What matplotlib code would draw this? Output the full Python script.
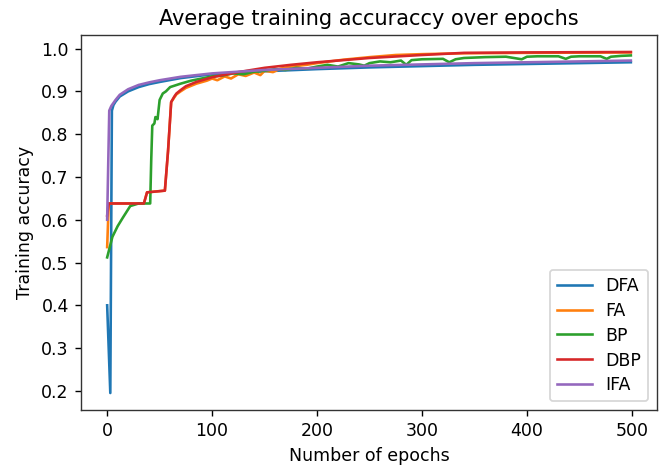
import numpy as np
import matplotlib
matplotlib.use('Agg')
import matplotlib.pyplot as plt

# DFA
dfa_x = [0, 3, 4.5, 6, 8, 12, 20, 30, 40, 50, 70, 100, 150, 200, 250, 300, 350, 400, 450, 499]
dfa_y = [0.40, 0.195, 0.855, 0.868, 0.876, 0.888, 0.900, 0.910, 0.917, 0.922, 0.931, 0.940,
         0.947, 0.952, 0.956, 0.959, 0.962, 0.964, 0.966, 0.968]

# FA
fa_x = [0, 1.5, 35, 38, 55, 58, 61, 64, 66, 70, 75, 85, 95, 100, 105, 112, 118, 125, 132, 140,
        146, 150, 158, 165, 175, 190, 200, 225, 250, 275, 300, 340, 400, 499]
fa_y = [0.536, 0.638, 0.638, 0.664, 0.668, 0.76, 0.875, 0.886, 0.893, 0.900, 0.908, 0.918,
        0.925, 0.930, 0.926, 0.935, 0.930, 0.940, 0.936, 0.944, 0.938, 0.948, 0.945, 0.953,
        0.958, 0.962, 0.966, 0.974, 0.980, 0.985, 0.987, 0.989, 0.990, 0.991]

# BP
bp_x = [0, 5, 10, 15, 22, 30, 41, 42, 43, 45, 46, 48, 50, 53, 56, 60, 65, 70, 80, 90, 100,
        110, 120, 130, 140, 150, 160, 170, 180, 190, 200, 210, 220, 230, 240, 245, 250, 260,
        270, 280, 285, 290, 300, 320, 326, 332, 340, 360, 380, 395, 400, 410, 430, 437, 442,
        450, 470, 476, 480, 490, 499]
bp_y = [0.512, 0.56, 0.585, 0.605, 0.632, 0.638, 0.638, 0.74, 0.82, 0.825, 0.84, 0.835, 0.88,
        0.895, 0.90, 0.91, 0.914, 0.918, 0.925, 0.930, 0.935, 0.937, 0.942, 0.940, 0.946, 0.948,
        0.952, 0.950, 0.955, 0.953, 0.958, 0.962, 0.958, 0.966, 0.963, 0.960, 0.966, 0.970,
        0.968, 0.972, 0.962, 0.973, 0.975, 0.976, 0.968, 0.975, 0.978, 0.980, 0.981, 0.975,
        0.981, 0.982, 0.982, 0.976, 0.981, 0.982, 0.982, 0.976, 0.981, 0.983, 0.984]

# DBP
dbp_x = [0, 1.5, 35, 38, 55, 58, 61, 64, 66, 70, 75, 85, 100, 125, 150, 175, 200, 250, 300,
         340, 400, 499]
dbp_y = [0.61, 0.638, 0.638, 0.664, 0.668, 0.76, 0.875, 0.888, 0.895, 0.903, 0.912, 0.922,
         0.933, 0.945, 0.955, 0.962, 0.968, 0.978, 0.985, 0.990, 0.991, 0.992]

# IFA
ifa_x = [0, 2, 4, 6, 8, 12, 20, 30, 40, 50, 70, 100, 150, 200, 250, 300, 350, 400, 450, 499]
ifa_y = [0.60, 0.855, 0.866, 0.873, 0.880, 0.892, 0.905, 0.915, 0.921, 0.926, 0.934, 0.942,
         0.950, 0.955, 0.960, 0.963, 0.966, 0.968, 0.970, 0.972]

fig = plt.figure(figsize=(661/125, 466/125), dpi=125)
ax = fig.add_axes([0.1225, 0.12, 0.8715, 0.805])
ax.plot(dfa_x, dfa_y, label="DFA")
ax.plot(fa_x, fa_y, label="FA")
ax.plot(bp_x, bp_y, label="BP")
ax.plot(dbp_x, dbp_y, label="DBP")
ax.plot(ifa_x, ifa_y, label="IFA")
ax.set_title("Average training accuraccy over epochs")
ax.set_xlabel("Number of epochs")
ax.set_ylabel("Training accuracy")
ax.set_yticks(np.arange(0.2, 1.01, 0.1))
for s in ax.spines.values():
    s.set_color("#333333")
ax.legend(loc="lower right", labelspacing=0.4)
fig.savefig("out.png")
